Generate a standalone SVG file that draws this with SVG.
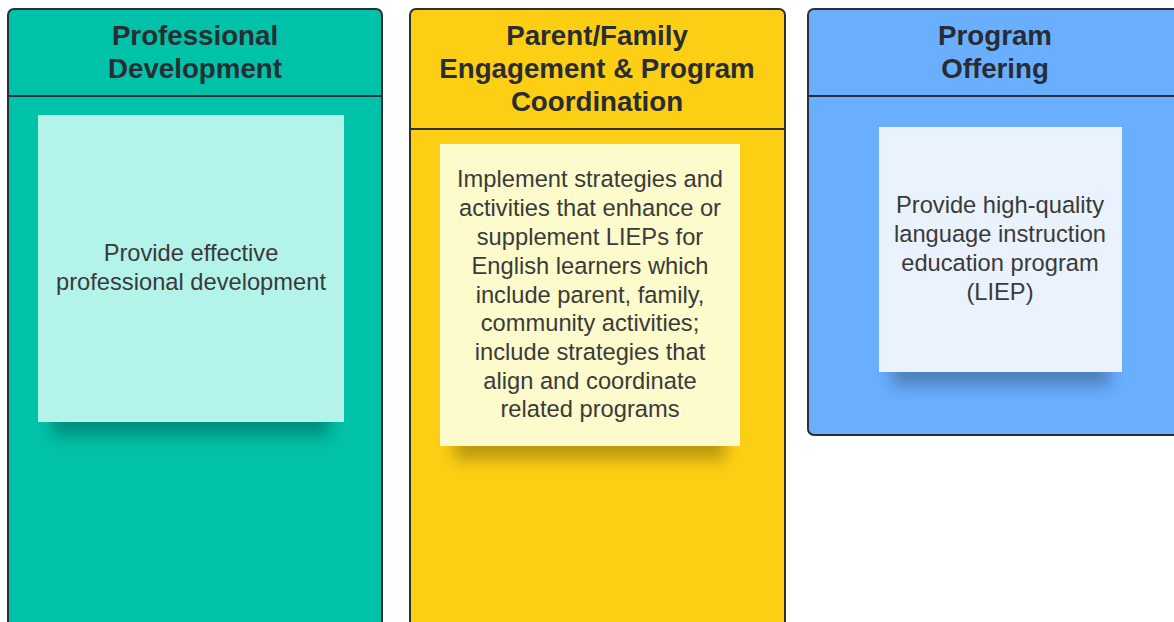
<svg xmlns="http://www.w3.org/2000/svg" width="1174" height="622" viewBox="0 0 1174 622">
<defs>
<style>
.col{stroke:#2b2f36;stroke-width:2}
.div{stroke:#2b2f36;stroke-width:2}
.hdr{font-family:"Liberation Sans",Arial,sans-serif;font-weight:bold;font-size:27.7px;fill:#282c33;text-anchor:middle}
.body{font-family:"Liberation Sans",Arial,sans-serif;font-size:23.7px;fill:#3a3a3a;text-anchor:middle}
.shadow{fill:#000;opacity:0.26;filter:url(#blur)}
</style>
<filter id="blur" x="-20%" y="-100%" width="140%" height="300%"><feGaussianBlur stdDeviation="8"/></filter>
</defs>
<rect width="1174" height="622" fill="#ffffff"/>
<g id="col-professional-development">
<rect class="col" x="8" y="9" width="374" height="640" rx="6" fill="#00c2a8"/>
<line class="div" x1="8" y1="96" x2="382" y2="96"/>
<text class="hdr" x="195" y="45">Professional</text>
<text class="hdr" x="195" y="78">Development</text>
</g>
<g id="col-parent-family">
<rect class="col" x="410" y="9" width="375" height="640" rx="6" fill="#fdcf14"/>
<line class="div" x1="410" y1="129" x2="785" y2="129"/>
<text class="hdr" x="597" y="45">Parent/Family</text>
<text class="hdr" x="597" y="78">Engagement &amp; Program</text>
<text class="hdr" x="597" y="111">Coordination</text>
</g>
<g id="col-program-offering">
<rect class="col" x="808" y="9" width="400" height="426" rx="6" fill="#6aaeff"/>
<line class="div" x1="808" y1="96" x2="1174" y2="96"/>
<text class="hdr" x="995" y="45">Program</text>
<text class="hdr" x="995" y="78">Offering</text>
</g>
<g id="note-professional-development">
<rect class="shadow" x="52" y="402" width="278" height="34"/>
<rect x="38" y="115" width="306" height="307" fill="#b4f3e9"/>
<text class="body" x="191" y="261">Provide effective</text>
<text class="body" x="191" y="290">professional development</text>
</g>
<g id="note-parent-family">
<rect class="shadow" x="454" y="426" width="272" height="34"/>
<rect x="440" y="144" width="300" height="302" fill="#fdfacb"/>
<text class="body" x="590" y="187">Implement strategies and</text>
<text class="body" x="590" y="216">activities that enhance or</text>
<text class="body" x="590" y="245">supplement LIEPs for</text>
<text class="body" x="590" y="274">English learners which</text>
<text class="body" x="590" y="303">include parent, family,</text>
<text class="body" x="590" y="331">community activities;</text>
<text class="body" x="590" y="360">include strategies that</text>
<text class="body" x="590" y="389">align and coordinate</text>
<text class="body" x="590" y="417">related programs</text>
</g>
<g id="note-program-offering">
<rect class="shadow" x="892" y="352" width="218" height="34"/>
<rect x="879" y="127" width="243" height="245" fill="#eaf2fd"/>
<text class="body" x="1000" y="213">Provide high-quality</text>
<text class="body" x="1000" y="242">language instruction</text>
<text class="body" x="1000" y="271">education program</text>
<text class="body" x="1000" y="300">(LIEP)</text>
</g>
<g id="connectors"></g>
</svg>
